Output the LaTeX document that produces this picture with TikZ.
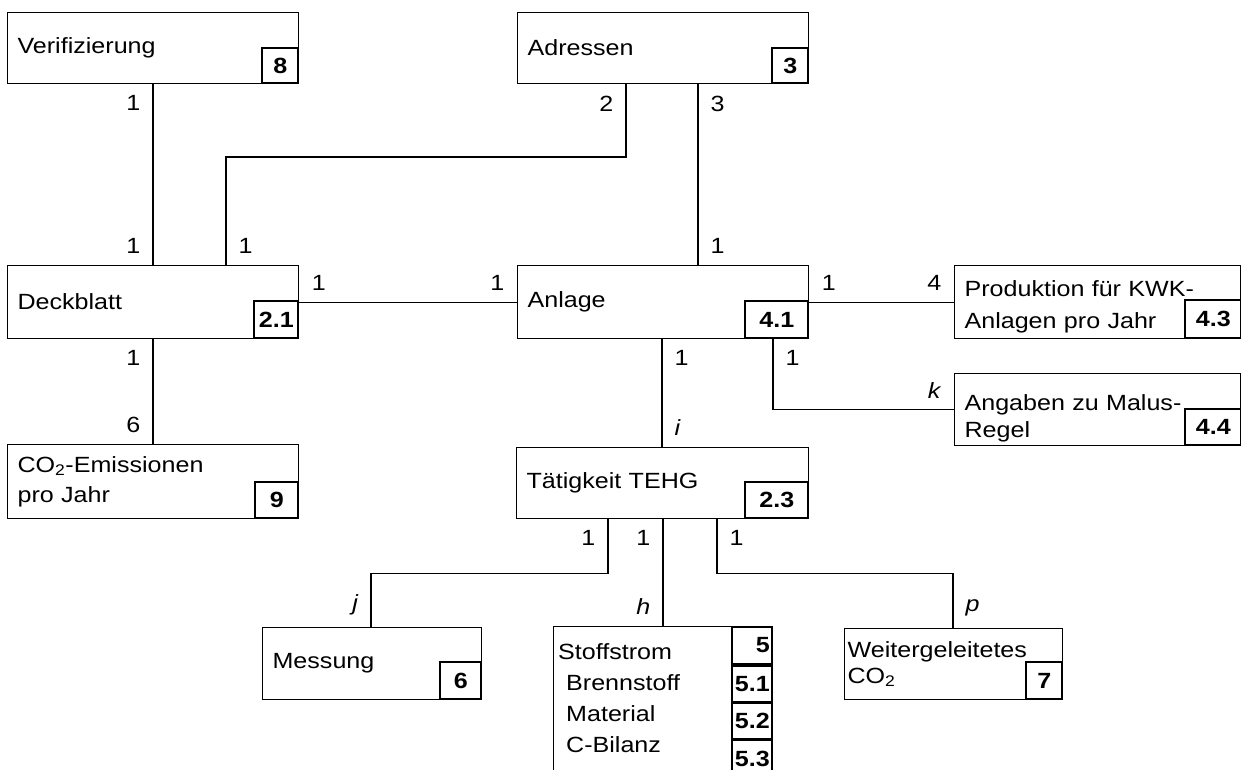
\documentclass[tikz,border=0pt]{standalone}
\usepackage{fontspec}
\setmainfont[FakeStretch=1.14]{Liberation Sans}
\usetikzlibrary{positioning}
\tikzset{>=latex}
\tikzset{
  ent/.style={draw, line width=1.2pt, anchor=north west, minimum width=#1, text width=#1-20pt,
    minimum height=71pt, inner xsep=10pt, inner ysep=0pt, align=left},
  nr/.style={draw, line width=1.8pt, font=\fontsize{22}{27}\selectfont\bfseries, anchor=south east,
    inner sep=0pt, minimum width=#1, minimum height=36pt},
  card/.style={inner xsep=12pt, inner ysep=11pt},
  conn/.style={line width=1.2pt}
}

\begin{document}
\begin{tikzpicture}[x=1pt, y=-1pt, font=\fontsize{22}{27}\selectfont]
\useasboundingbox (0,0) rectangle (1241,769);
\clip (0,0) rectangle (1241,769);

\node[ent=291pt] (verif) at (7,12) {Verifizierung};
\node[nr=36pt, minimum height=35pt] (verifnr) at (verif.south east) {8};
\node[ent=291pt] (addr) at (517,12) {Adressen};
\node[nr=36pt, minimum height=35pt] (addrnr) at (addr.south east) {3};
\node[ent=291pt, minimum height=73pt] (deck) at (7,265) {Deckblatt};
\node[nr=44pt, minimum height=37pt] (decknr) at (deck.south east) {2.1};
\node[ent=291pt, minimum height=73pt] (anl) at (517,265) {Anlage};
\node[nr=63pt, minimum height=37pt] (anlnr) at (anl.south east) {4.1};
\node[ent=291pt, minimum height=74pt] (co2) at (7,444) {CO\textsubscript{2}-Emissionen\\[3pt]pro Jahr};
\node[nr=43pt] (co2nr) at (co2.south east) {9};
\node[ent=286pt, minimum height=73pt, text height=26pt] (prod) at (954,265) {Produktion für KWK-\\[5pt]Anlagen pro Jahr};
\node[nr=56pt, minimum height=38pt] (prodnr) at ([xshift=1pt]prod.south east) {4.3};
\node[ent=286pt, minimum height=72pt, text height=33pt] (malus) at (954,373) {Angaben zu Malus-\\Regel};
\node[nr=56pt] (malusnr) at ([xshift=1pt]malus.south east) {4.4};
\node[ent=292pt] (teh) at (516,447) {Tätigkeit TEHG};
\node[nr=63pt] (tehnr) at (teh.south east) {2.3};
\node[ent=219pt, minimum height=72pt] (mess) at (262,627) {Messung};
\node[nr=41pt, minimum height=37pt] (messnr) at (mess.south east) {6};
\node[ent=218pt, inner xsep=3pt, text width=212pt, font=\fontsize{22}{26}\selectfont] (weiter) at (844,628) {Weitergeleitetes\\CO\textsubscript{2}};
\node[nr=36pt, minimum height=37pt] (weiternr) at (weiter.south east) {7};

\node[draw, line width=1.2pt, anchor=north west, minimum width=219pt, minimum height=170pt, inner sep=0pt] (stoff) at (553,626) {};
\node[anchor=north west, inner xsep=5pt, inner ysep=0pt, align=left, font=\fontsize{22}{31}\selectfont] (stofftxt) at ([yshift=-17pt]stoff.north west)
  {Stoffstrom\\\hspace*{8pt}Brennstoff\\\hspace*{8pt}Material\\\hspace*{8pt}C-Bilanz};
\node[nr=40pt, anchor=north east, minimum height=37pt, text width=35pt, align=right] (n5) at (stoff.north east) {5};
\node[nr=40pt, below=0pt of n5] (n51) {5.1};
\node[nr=40pt, below=0pt of n51, minimum height=35pt] (n52) {5.2};
\node[nr=40pt, below=0pt of n52, minimum height=37pt] (n53) {5.3};

\draw[conn] ([xshift=146pt]verif.south west) node[card, below left]{1} -- ([xshift=146pt]deck.north west) node[card, above left]{1};
\draw[conn] ([xshift=219pt]deck.north west) node[card, above right]{1} -- ++(0,-108) -| ([xshift=109pt]addr.south west) node[card, below left]{2};
\draw[conn] ([xshift=181pt]addr.south west) node[card, below right]{3} -- ([xshift=181pt]anl.north west) node[card, above right]{1};
\draw[conn] (deck.east) node[card, above right]{1} -- (anl.west) node[card, above left]{1};
\draw[conn] ([xshift=146pt]deck.south west) node[card, below left]{1} -- ([xshift=146pt]co2.north west) node[card, above left]{6};
\draw[conn] (anl.east) node[card, above right]{1} -- (prod.west) node[card, above left]{4};
\draw[conn] ([xshift=256pt]anl.south west) node[card, below right]{1} |- (malus.west) node[card, above left]{\textit{k}};
\draw[conn] ([xshift=145pt]anl.south west) node[card, below right]{1} -- ([xshift=146pt]teh.north west) node[card, above right]{\textit{i}};
\draw[conn] ([xshift=92pt]teh.south west) node[card, below left]{1} -- ++(0,54) -| ([xshift=109pt]mess.north west) node[card, above left]{\textit{j}};
\draw[conn] ([xshift=147pt]teh.south west) node[card, below left]{1} -- ([xshift=110pt]stoff.north west) node[card, above left]{\textit{h}};
\draw[conn] ([xshift=201pt]teh.south west) node[card, below right]{1} -- ++(0,54) -| ([xshift=109pt]weiter.north west) node[card, above right]{\textit{p}};
\end{tikzpicture}
\end{document}
